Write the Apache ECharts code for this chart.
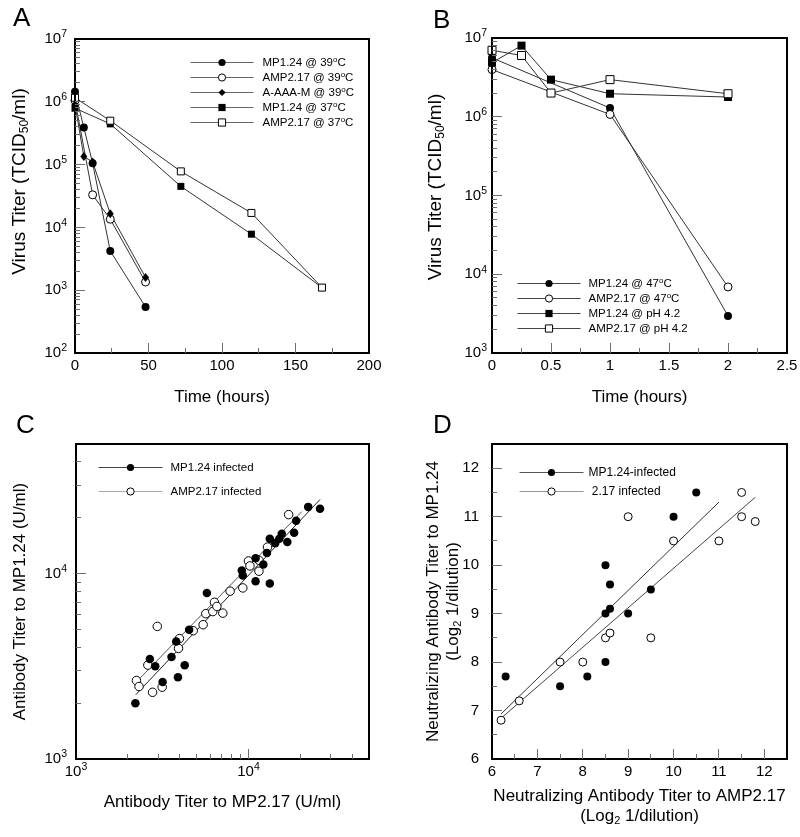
<!DOCTYPE html>
<html><head><meta charset="utf-8">
<script src="https://cdn.jsdelivr.net/npm/echarts@6/dist/echarts.min.js"></script>
<style>html,body{margin:0;padding:0;background:#fff}#c{width:800px;height:837px}</style>
</head><body><div id="c"></div>
<script>
// ---------- Panel A data ----------
const timeA39 = [0, 6, 12, 24, 48];
const timeA39open = [0, 12, 24, 48];
const timeA37 = [0, 24, 72, 120, 168];
const mp124_39 = [1.45e6, 3.9e5, 1.05e5, 4.2e3, 5.4e2];
const amp217_39 = [1.05e6, 3.3e4, 1.35e4, 1.35e3];
const aaaam_39 = [9.0e5, 1.35e5, 1.1e5, 1.65e4, 1.6e3];
const mp124_37 = [7.9e5, 4.45e5, 4.5e4, 7.8e3, 1.1e3];
const amp217_37 = [1.16e6, 5.0e5, 7.8e4, 1.7e4, 1.1e3];
const xTicksA = [0, 50, 100, 150, 200];
const xMinorA = [25, 75, 125, 175];

// ---------- Panel B data ----------
const timeB47 = [0, 1, 2];
const timeBpH = [0, 0.25, 0.5, 1, 2];
const mp124_47 = [5.6e6, 1.29e6, 2.95e3];
const amp217_47 = [3.97e6, 1.07e6, 6.9e3];
const mp124_pH = [4.87e6, 8.0e6, 2.96e6, 1.96e6, 1.78e6];
const amp217_pH = [6.98e6, 6.0e6, 2.0e6, 2.96e6, 1.96e6];
const xTicksB = [0, 0.5, 1, 1.5, 2, 2.5];
const xMinorB = [0.25, 0.75, 1.25, 1.75, 2.25];

// ---------- Panel C data ----------
const cFilledX = [2.21e3, 2.68e3, 2.88e3, 3.18e3, 3.58e3, 3.81e3, 3.9e3, 4.27e3, 4.53e3, 5.74e3, 9.15e3, 9.27e3, 1.1e4, 1.1e4, 1.22e4, 1.28e4, 1.33e4, 1.33e4, 1.43e4, 1.51e4, 1.56e4, 1.68e4, 1.84e4, 1.89e4, 2.22e4, 2.6e4];
const cFilledY = [2.0e3, 3.46e3, 3.16e3, 2.6e3, 3.55e3, 4.3e3, 2.76e3, 3.2e3, 4.98e3, 7.85e3, 1.04e4, 9.76e3, 9.1e3, 1.21e4, 1.12e4, 1.29e4, 1.54e4, 8.83e3, 1.46e4, 1.54e4, 1.64e4, 1.48e4, 1.66e4, 1.93e4, 2.29e4, 2.24e4];
const cOpenX = [2.24e3, 2.32e3, 2.61e3, 2.78e3, 2.96e3, 3.16e3, 3.93e3, 3.98e3, 4.78e3, 5.46e3, 5.66e3, 6.21e3, 6.35e3, 6.56e3, 7.1e3, 7.83e3, 9.27e3, 1.0e4, 1.02e4, 1.15e4, 1.15e4, 1.29e4, 1.71e4];
const cOpenY = [2.65e3, 2.46e3, 3.21e3, 2.29e3, 5.19e3, 2.44e3, 3.95e3, 4.46e3, 4.92e3, 5.3e3, 6.08e3, 6.24e3, 7.0e3, 6.65e3, 6.12e3, 8.04e3, 8.37e3, 1.17e4, 1.1e4, 1.03e4, 1.18e4, 1.39e4, 2.08e4];
const cFit1X = [2.22e3, 2.6e4];
const cFit1Y = [2.22e3, 2.51e4];
const cFit2X = [2.2e3, 2.04e4];
const cFit2Y = [2.56e3, 2.16e4];

// ---------- Panel D data ----------
const dFilledX = [6.3, 7.5, 8.1, 8.5, 8.5, 8.5, 8.6, 8.6, 9.0, 9.5, 10.0, 10.5];
const dFilledY = [7.7, 7.5, 7.7, 10.0, 9.0, 8.0, 9.6, 9.1, 9.0, 9.5, 11.0, 11.5];
const dOpenX = [6.2, 6.6, 7.5, 8.0, 8.5, 8.6, 9.0, 9.5, 10.0, 11.0, 11.5, 11.5, 11.8];
const dOpenY = [6.8, 7.2, 8.0, 8.0, 8.5, 8.6, 11.0, 8.5, 10.5, 10.5, 11.5, 11.0, 10.9];
const dFit1X = [6.2, 11.0];
const dFit1Y = [6.93, 11.3];
const dFit2X = [6.2, 11.8];
const dFit2Y = [6.84, 11.4];
const dTicks = [6, 7, 8, 9, 10, 11, 12];
const dMinor = [6.5, 7.5, 8.5, 9.5, 10.5, 11.5];

// ---------- helpers ----------
const FONT = "'Liberation Sans', Arial, Helvetica, sans-serif";
const TICKC = '#6e6e6e';
const LINEC = '#333';
function decades(a, b) { const r = []; for (let e = a; e <= b; e++) r.push(Math.pow(10, e)); return r; }
function logMinors(a, b, max) { const r = []; for (let e = a; e < b; e++) for (let m = 2; m <= 9; m++) { const v = m * Math.pow(10, e); if (max === undefined || v < max) r.push(v); } return r; }
function zip(xs, ys) { return xs.map((x, i) => [x, ys[i]]); }
function pow10Label(v) { const e = Math.round(Math.log10(v)); return '{b|10}{s|' + e + '}'; }
const logRich = {
  b: { fontSize: 15, fontFamily: FONT, color: '#000', lineHeight: 20 },
  s: { fontSize: 10.5, fontFamily: FONT, color: '#000', lineHeight: 10, verticalAlign: 'top' }
};
function nameStyle(size, lh, pad) {
  const s = { fontSize: size, fontFamily: FONT, color: '#000', lineHeight: lh,
    rich: { sub: { fontSize: Math.round(size * 0.65), fontFamily: FONT, color: '#000', lineHeight: 11, verticalAlign: 'bottom' } } };
  if (pad) s.padding = pad;
  return s;
}
const frameLine = { show: true, onZero: false, lineStyle: { color: '#000', width: 2 } };

const xAxes = [], yAxes = [];
function axisSet(list, o) {
  const common = { type: o.type, gridIndex: o.grid, min: o.min, max: o.max, z: 5,
    splitLine: { show: false }, minorSplitLine: { show: false }, axisTick: { show: false }, minorTick: { show: false } };
  if (o.type === 'log') common.logBase = 10;
  const label = { show: true, margin: o.margin, color: '#000', fontFamily: FONT, fontSize: 15,
    showMinLabel: true, showMaxLabel: o.showMax !== false };
  if (o.type === 'log') { label.formatter = pow10Label; label.rich = logRich; }
  const main = Object.assign({}, common, {
    position: o.position, axisLine: frameLine, axisLabel: label,
    name: o.name, nameLocation: 'middle', nameGap: o.nameGap, nameTextStyle: o.nameStyle, nameMoveOverlap: false
  });
  if (o.type === 'value') main.interval = o.interval;
  list.push(main);
  const idx = list.length - 1;
  list.push(Object.assign({}, common, {
    position: o.position === 'bottom' ? 'top' : 'right', axisLine: frameLine, axisLabel: { show: false }
  }));
  return idx;
}

// Panel A axes
const xA = axisSet(xAxes, { grid: 0, type: 'value', min: 0, max: 200, interval: 50, position: 'bottom', margin: 5,
  name: 'Time (hours)', nameGap: 34, nameStyle: nameStyle(17, 20) });
const yA = axisSet(yAxes, { grid: 0, type: 'log', min: 1e2, max: 1e7, position: 'left', margin: 8,
  name: 'Virus Titer (TCID{sub|50}/ml)', nameGap: 44, nameStyle: nameStyle(19, 22, [0, 0, 0, 29]) });
// Panel B axes
const xB = axisSet(xAxes, { grid: 1, type: 'value', min: 0, max: 2.5, interval: 0.5, position: 'bottom', margin: 5,
  name: 'Time (hours)', nameGap: 34, nameStyle: nameStyle(17, 20) });
const yB = axisSet(yAxes, { grid: 1, type: 'log', min: 1e3, max: 1e7, position: 'left', margin: 5,
  name: 'Virus Titer (TCID{sub|50}/ml)', nameGap: 45, nameStyle: nameStyle(19, 22, [0, 0, 0, 17]) });
// Panel C axes
const xC = axisSet(xAxes, { grid: 2, type: 'log', min: 1e3, max: 5e4, position: 'bottom', margin: 3, showMax: false,
  name: 'Antibody Titer to MP2.17 (U/ml)', nameGap: 33, nameStyle: nameStyle(17, 20) });
const yC = axisSet(yAxes, { grid: 2, type: 'log', min: 1e3, max: 5e4, position: 'left', margin: 9, showMax: false,
  name: 'Antibody Titer to MP1.24 (U/ml)', nameGap: 46, nameStyle: nameStyle(17, 20) });
// Panel D axes
const xD = axisSet(xAxes, { grid: 3, type: 'value', min: 6, max: 12.5, interval: 1, position: 'bottom', margin: 5, showMax: false,
  name: 'Neutralizing Antibody Titer to AMP2.17\n(Log{sub|2} 1/dilution)', nameGap: 27, nameStyle: nameStyle(17, 20) });
const yD = axisSet(yAxes, { grid: 3, type: 'value', min: 6, max: 12.5, interval: 1, position: 'left', margin: 13, showMax: false,
  name: 'Neutralizing Antibody Titer to MP1.24\n(Log{sub|2} 1/dilution)', nameGap: 29, nameStyle: nameStyle(17, 20) });

// tick specs per panel: [xIndex, yIndex, xAt, yAt, xMajor, xMinor, yMajor, yMinor]
const tickSpecs = [
  [xA, yA, 0, 1e2, xTicksA.slice(1, -1), xMinorA, decades(3, 6), logMinors(2, 7)],
  [xB, yB, 0, 1e3, xTicksB.slice(1, -1), xMinorB, decades(4, 6), logMinors(3, 7)],
  [xC, yC, 1e3, 1e3, [1e4], logMinors(3, 5, 5e4), [1e4], logMinors(3, 5, 5e4)],
  [xD, yD, 6, 6, dTicks.slice(1), dMinor, dTicks.slice(1), dMinor]
];
// tick mark drawn as a thin filled rectangle at a pixel point given by the axes
function tickRect(p, k) {
  const len = (k % 2 === 0) ? 10 : 5;
  if (k < 2) return { x: Math.floor(p[0]), y: p[1] - len, width: 1, height: len };
  return { x: p[0], y: Math.floor(p[1]), width: len, height: 1 };
}
function tickSeries(spec) {
  const [xi, yi, x0, y0, xMaj, xMin, yMaj, yMin] = spec;
  const data = [];
  xMaj.forEach(v => data.push([v, y0, 0]));
  xMin.forEach(v => data.push([v, y0, 1]));
  yMaj.forEach(v => data.push([x0, v, 2]));
  yMin.forEach(v => data.push([x0, v, 3]));
  return {
    type: 'custom', coordinateSystem: 'cartesian2d', xAxisIndex: xi, yAxisIndex: yi, data,
    encode: { x: 0, y: 1 }, clip: false, silent: true, z: 6, animation: false,
    renderItem: function (params, api) {
      const p = api.coord([api.value(0), api.value(1)]);
      return { type: 'rect', shape: tickRect(p, api.value(2)), style: { fill: TICKC } };
    }
  };
}

const FILLED = { color: '#000', borderColor: '#000', borderWidth: 0 };
const OPEN = { color: '#fff', borderColor: '#000', borderWidth: 1 };
function ser(name, xi, yi, data, symbol, size, style, lineW, z) {
  return { type: 'line', name, xAxisIndex: xi, yAxisIndex: yi, data, symbol, symbolSize: size,
    itemStyle: style, lineStyle: { color: LINEC, width: lineW }, showSymbol: true, z: z || 2,
    emphasis: { disabled: true }, animation: false };
}
function fit(name, xi, yi, data, color) {
  return { type: 'line', name, xAxisIndex: xi, yAxisIndex: yi, data, symbol: 'none',
    lineStyle: { color, width: 1 }, z: 1, emphasis: { disabled: true }, animation: false };
}

const series = [
  ser('MP1.24 @ 39°C', xA, yA, zip(timeA39, mp124_39), 'circle', 8, FILLED, 1),
  ser('AMP2.17 @ 39°C', xA, yA, zip(timeA39open, amp217_39), 'circle', 8, OPEN, 1),
  ser('A-AAA-M @ 39°C', xA, yA, zip(timeA39, aaaam_39), 'diamond', [7, 9], FILLED, 1),
  ser('MP1.24 @ 37°C', xA, yA, zip(timeA37, mp124_37), 'rect', 7, FILLED, 1),
  ser('AMP2.17 @ 37°C', xA, yA, zip(timeA37, amp217_37), 'rect', 7, OPEN, 1),

  ser('MP1.24 @ 47°C', xB, yB, zip(timeB47, mp124_47), 'circle', 8, FILLED, 1),
  ser('AMP2.17 @ 47°C', xB, yB, zip(timeB47, amp217_47), 'circle', 8, OPEN, 1),
  ser('MP1.24 @ pH 4.2', xB, yB, zip(timeBpH, mp124_pH), 'rect', 8, FILLED, 1),
  ser('AMP2.17 @ pH 4.2', xB, yB, zip(timeBpH, amp217_pH), 'rect', 8, OPEN, 1),

  fit('fitC1', xC, yC, zip(cFit1X, cFit1Y), '#222'),
  fit('fitC2', xC, yC, zip(cFit2X, cFit2Y), '#555'),
  ser('AMP2.17 infected', xC, yC, zip(cOpenX, cOpenY), 'circle', 8.5, OPEN, 0, 3),
  ser('MP1.24 infected', xC, yC, zip(cFilledX, cFilledY), 'circle', 8.5, FILLED, 0, 3),

  fit('fitD1', xD, yD, zip(dFit1X, dFit1Y), '#333'),
  fit('fitD2', xD, yD, zip(dFit2X, dFit2Y), '#444'),
  ser('MP1.24-infected', xD, yD, zip(dFilledX, dFilledY), 'circle', 8, FILLED, 0, 3),
  ser(' 2.17 infected', xD, yD, zip(dOpenX, dOpenY), 'circle', 8, OPEN, 0, 3)
].concat(tickSpecs.map(tickSeries));

function legItem(name, filled, lineColor) {
  return { name, itemStyle: filled ? FILLED : OPEN, lineStyle: { color: lineColor, width: 1, opacity: 1 } };
}
function legend(left, top, items, itemWidth, gap, fontSize, pad) {
  return {
    orient: 'vertical', left, top, padding: 0, itemWidth, itemHeight: 9, itemGap: gap, selectedMode: false,
    data: items, lineStyle: { width: 1 },
    formatter: n => n.replace('°C', '{o|o}C'),
    textStyle: { fontSize, fontFamily: FONT, color: '#000', lineHeight: 13, padding: [0, 0, 0, pad],
      rich: { o: { fontSize: 8, fontFamily: FONT, color: '#000', lineHeight: 9, verticalAlign: 'top' } } }
  };
}

const letters = [
  { type: 'text', left: 13, top: 6, style: { text: 'A', fontSize: 26, fontFamily: FONT, fill: '#000' } },
  { type: 'text', left: 433, top: 8, style: { text: 'B', fontSize: 26, fontFamily: FONT, fill: '#000' } },
  { type: 'text', left: 16, top: 413, style: { text: 'C', fontSize: 26, fontFamily: FONT, fill: '#000' } },
  { type: 'text', left: 433, top: 413, style: { text: 'D', fontSize: 26, fontFamily: FONT, fill: '#000' } }
];

const option = {
  backgroundColor: '#fff',
  animation: false,
  grid: [
    { left: 75, top: 39, width: 294, height: 314 },
    { left: 492, top: 38, width: 295, height: 315 },
    { left: 76, top: 444, width: 293, height: 315 },
    { left: 492, top: 444, width: 295, height: 315 }
  ].map(g => Object.assign(g, { show: false, containLabel: false, outerBoundsMode: 'none' })),
  xAxis: xAxes,
  yAxis: yAxes,
  legend: [
    legend(190, 56, [legItem('MP1.24 @ 39°C', true, '#666'), legItem('AMP2.17 @ 39°C', false, '#666'), legItem('A-AAA-M @ 39°C', true, '#666'), legItem('MP1.24 @ 37°C', true, '#666'), legItem('AMP2.17 @ 37°C', false, '#666')], 63, 2, 11.5, 4),
    legend(517, 277, [legItem('MP1.24 @ 47°C', true, '#444'), legItem('AMP2.17 @ 47°C', false, '#444'), legItem('MP1.24 @ pH 4.2', true, '#444'), legItem('AMP2.17 @ pH 4.2', false, '#444')], 63, 2, 11.5, 3),
    legend(98, 461, [legItem('MP1.24 infected', true, '#444'), legItem('AMP2.17 infected', false, '#aaa')], 64, 11, 11.5, 3),
    legend(519, 466, [legItem('MP1.24-infected', true, '#555'), legItem(' 2.17 infected', false, '#999')], 64, 6, 12, 0)
  ],
  graphic: letters,
  series
};
const chart = echarts.init(document.getElementById('c'), null, { renderer: 'canvas' });
chart.setOption(option);

// fallback pass: same tick rectangles as graphic elements, converted through the axes
let ticksDone = false;
function drawTicks() {
  if (ticksDone) return;
  const els = [];
  tickSpecs.forEach(spec => {
    const [xi, yi, x0, y0, xMaj, xMin, yMaj, yMin] = spec;
    const finder = { xAxisIndex: xi, yAxisIndex: yi };
    const put = (vals, k) => vals.forEach(v => {
      let p;
      try { p = chart.convertToPixel(finder, k < 2 ? [v, y0] : [x0, v]); } catch (e) { p = null; }
      if (!p || !isFinite(p[0]) || !isFinite(p[1])) return;
      els.push({ type: 'rect', silent: true, z: 100, shape: tickRect(p, k), style: { fill: TICKC } });
    });
    put(xMaj, 0); put(xMin, 1); put(yMaj, 2); put(yMin, 3);
  });
  if (els.length) { ticksDone = true; chart.setOption({ graphic: letters.concat(els) }); }
}
setTimeout(drawTicks, 0);
</script>
</body></html>
